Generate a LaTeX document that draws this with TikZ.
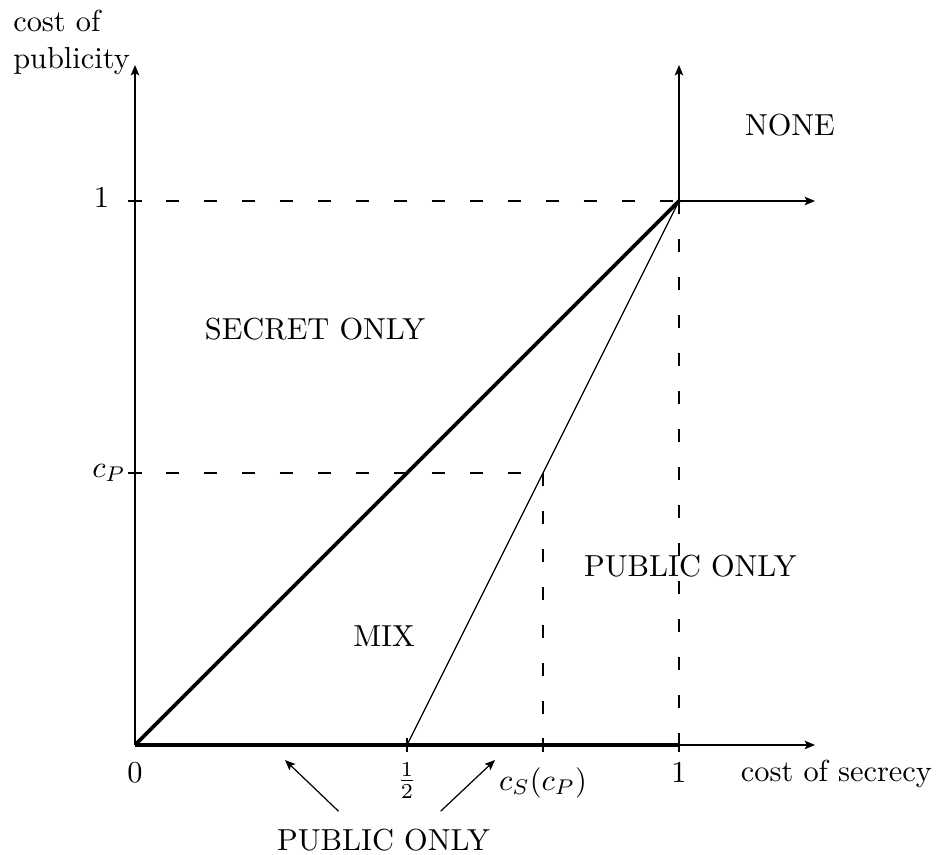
\documentclass[tikz,border=0pt]{standalone}
\usepackage{amsmath}
\usepackage{tikz}
\usetikzlibrary{arrows.meta}

\begin{document}
\begin{tikzpicture}[x=6.291cm, y=6.291cm, >={Stealth[length=3.4pt,width=2.8pt,inset=0.7pt]},
        guide/.style={dash pattern=on 4.4pt off 8.1pt},
        heavy/.style={line width=1.2pt}]
    \useasboundingbox (-0.2482,-0.2022) rectangle (1.4798,1.3695);

    % The axes
    \draw[->] (0,0) -- (1.25,0);
    \draw[->] (0,0) -- (0,1.25);
    \draw[->] (1,1) -- (1.25,1);
    \draw[->] (1,1) -- (1,1.25);

    % guides
    \draw[guide, dash phase=2.3pt] (0,1) -- (1,1);
    \draw[guide] (1,1) -- (1,0);
    \draw[guide, dash phase=2.3pt] (0,0.5) -- (0.75,0.5);
    \draw[guide] (0.75,0.5) -- (0.75,0);

    % ticks
    \foreach \t in {0.5,0.75,1}
        \draw (\t,0) ++(0,2.3pt) -- ++(0,-4.6pt);
    \foreach \t in {0.5,1}
        \draw (0,\t) ++(2.3pt,0) -- ++(-4.6pt,0);

    % boundaries
    \draw[heavy] (0,0) -- (1,1);
    \draw[heavy] (0,0) -- (1,0);
    \draw (0.5,0) -- (1,1);

    % labels on the axes
    \node (zero) at (0,-0.0506) {$0$};
    \node (half) at (0.5,-0.066) {$\frac{1}{2}$};
    \node (cs) at (0.75,-0.069) {$c_S(c_P)$};
    \node (one) at (1,-0.0506) {$1$};
    \node (xlab) at (1.2895,-0.054) {cost of secrecy};
    \node (yone) at (-0.0616,1.0064) {$1$};
    \node (cp) at (-0.0478,0.5) {$c_P$};
    \node[align=left] (ylab) at (-0.1167,1.2914) {cost of\\publicity};

    % regions
    \node (secret) at (0.331,0.765) {SECRET ONLY};
    \node (none) at (1.204,1.139) {NONE};
    \node (mix) at (0.458,0.2) {MIX};
    \node (pubright) at (1.021,0.329) {PUBLIC ONLY};
    \node (pubbot) at (0.4568,-0.1746) {PUBLIC ONLY};

    % pointers
    \coordinate (tipl) at (0.2757,-0.0276);
    \coordinate (tipr) at (0.6618,-0.0276);
    \draw[->] ([xshift=-0.52cm,yshift=0.08cm]pubbot.north) -- (tipl);
    \draw[->] ([xshift=0.66cm,yshift=0.08cm]pubbot.north) -- (tipr);
\end{tikzpicture}
\end{document}
